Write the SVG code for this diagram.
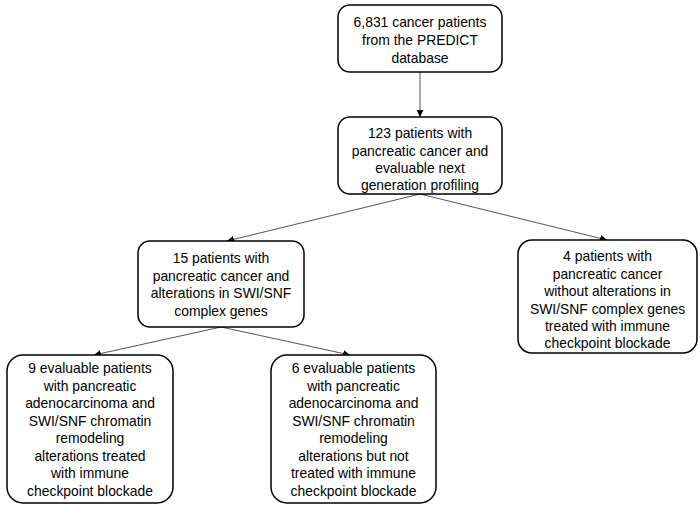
<svg xmlns="http://www.w3.org/2000/svg" width="700" height="508" viewBox="0 0 700 508">
<style>
.box{fill:#fff;stroke:#000;stroke-width:1.5}
.t{font-family:"Liberation Sans",Arial,sans-serif;font-size:13.9px;fill:#000;text-anchor:middle}
.c{stroke:#555;stroke-width:1;fill:none;marker-end:url(#ah)}
</style>
<defs>
<marker id="ah" viewBox="0 0 10 10" refX="10" refY="5" markerWidth="7" markerHeight="7" markerUnits="userSpaceOnUse" orient="auto">
<path d="M0,0 L10,5 L0,10 z" fill="#000"/>
</marker>
</defs>
<rect width="700" height="508" fill="#fff"/>
<g id="connectors">
<line class="c" x1="420" y1="72" x2="420" y2="117"/>
<line class="c" x1="420" y1="194" x2="227" y2="241"/>
<line class="c" x1="420" y1="194" x2="607" y2="240"/>
<line class="c" x1="221" y1="327" x2="94" y2="355"/>
<line class="c" x1="221" y1="327" x2="350" y2="355"/>
</g>
<g id="n1">
<rect class="box" x="338" y="5" width="164" height="67" rx="12"/>
<text class="t" x="420" y="27">6,831 cancer patients</text>
<text class="t" x="420" y="45">from the PREDICT</text>
<text class="t" x="420" y="63">database</text>
</g>
<g id="n2">
<rect class="box" x="338" y="117" width="164" height="77" rx="12"/>
<text class="t" x="420" y="138">123 patients with</text>
<text class="t" x="420" y="155.5">pancreatic cancer and</text>
<text class="t" x="420" y="173">evaluable next</text>
<text class="t" x="420" y="190">generation profiling</text>
</g>
<g id="n3">
<rect class="box" x="138" y="241" width="166" height="86" rx="12"/>
<text class="t" x="221" y="263">15 patients with</text>
<text class="t" x="221" y="280.5">pancreatic cancer and</text>
<text class="t" x="221" y="298">alterations in SWI/SNF</text>
<text class="t" x="221" y="315.5">complex genes</text>
</g>
<g id="n4">
<rect class="box" x="518" y="240" width="179" height="113" rx="14"/>
<text class="t" x="607.5" y="261">4 patients with</text>
<text class="t" x="607.5" y="278.5">pancreatic cancer</text>
<text class="t" x="607.5" y="296">without alterations in</text>
<text class="t" x="607.5" y="313.5">SWI/SNF complex genes</text>
<text class="t" x="607.5" y="331">treated with immune</text>
<text class="t" x="607.5" y="348">checkpoint blockade</text>
</g>
<g id="n5">
<rect class="box" x="7" y="355" width="166" height="148" rx="16"/>
<text class="t" x="90" y="373">9 evaluable patients</text>
<text class="t" x="90" y="390.5">with pancreatic</text>
<text class="t" x="90" y="408">adenocarcinoma and</text>
<text class="t" x="90" y="425.5">SWI/SNF chromatin</text>
<text class="t" x="90" y="443">remodeling</text>
<text class="t" x="90" y="460.5">alterations treated</text>
<text class="t" x="90" y="478">with immune</text>
<text class="t" x="90" y="495.5">checkpoint blockade</text>
</g>
<g id="n6">
<rect class="box" x="271" y="355" width="165" height="148" rx="16"/>
<text class="t" x="353.5" y="373">6 evaluable patients</text>
<text class="t" x="353.5" y="390.5">with pancreatic</text>
<text class="t" x="353.5" y="408">adenocarcinoma and</text>
<text class="t" x="353.5" y="425.5">SWI/SNF chromatin</text>
<text class="t" x="353.5" y="443">remodeling</text>
<text class="t" x="353.5" y="460.5">alterations but not</text>
<text class="t" x="353.5" y="478">treated with immune</text>
<text class="t" x="353.5" y="495.5">checkpoint blockade</text>
</g>
</svg>
